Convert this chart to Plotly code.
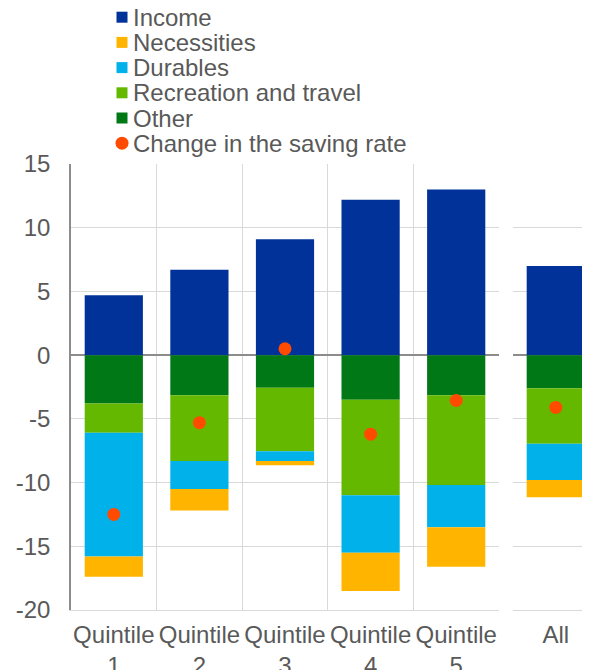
import plotly.graph_objects as go

# ---- data ----
quintiles = ["Quintile<br>1", "Quintile<br>2", "Quintile<br>3", "Quintile<br>4", "Quintile<br>5"]
total_label = ["All"]
income = [4.7, 6.7, 9.1, 12.2, 13.0, 7.0]
other = [-3.8, -3.15, -2.55, -3.5, -3.15, -2.6]
recreation = [-2.3, -5.15, -5.0, -7.5, -7.05, -4.35]
durables = [-9.7, -2.2, -0.75, -4.5, -3.3, -2.85]
necessities = [-1.6, -1.7, -0.35, -3.0, -3.1, -1.35]
saving_rate = [-12.5, -5.3, 0.5, -6.2, -3.55, -4.1]
y_ticks = [-20, -15, -10, -5, 0, 5, 10, 15]

series = [
    ("Income", income, "#003299"),
    ("Other", other, "#007816"),
    ("Recreation and travel", recreation, "#65B800"),
    ("Durables", durables, "#00B1EA"),
    ("Necessities", necessities, "#FFB400"),
]
legend_order = [
    ("Income", "#003299", "square"),
    ("Necessities", "#FFB400", "square"),
    ("Durables", "#00B1EA", "square"),
    ("Recreation and travel", "#65B800", "square"),
    ("Other", "#007816", "square"),
    ("Change in the saving rate", "#FF4B00", "circle"),
]

FONT = "Liberation Sans, Arial, sans-serif"
FS = 24
TXT = "#595959"
GRID = "#d9d9d9"
AX = "#8c8c8c"
DOT = "#FF4B00"

fig = go.Figure()
n = len(quintiles)
for name, vals, col in series:
    fig.add_trace(go.Bar(x=quintiles, y=vals[:n], name=name, marker=dict(color=col, line=dict(width=0)),
                         xaxis="x", yaxis="y", showlegend=False))
    fig.add_trace(go.Bar(x=total_label, y=vals[n:], name=name, marker=dict(color=col, line=dict(width=0)),
                         xaxis="x2", yaxis="y", showlegend=False))

fig.add_trace(go.Scatter(x=quintiles, y=saving_rate[:n], mode="markers", name="Change in the saving rate",
                         marker=dict(color=DOT, size=13), xaxis="x", yaxis="y", showlegend=False, cliponaxis=False))
fig.add_trace(go.Scatter(x=total_label, y=saving_rate[n:], mode="markers", name="Change in the saving rate",
                         marker=dict(color=DOT, size=13), xaxis="x2", yaxis="y", showlegend=False, cliponaxis=False))

ymin, ymax = y_ticks[0], y_ticks[-1]
zero_pos = (0 - ymin) / (ymax - ymin)
# page has an 8px body margin; figure is sized so the plot area lands where the original's does
W, H = 582, 662
L, T, B = 63, 156, 60
pw = W - L
d1 = 428 / pw
d2 = 442 / pw

common_x = dict(type="category", tickson="boundaries", showgrid=True, gridcolor=GRID, gridwidth=1,
                ticks="", showline=True, linecolor=GRID, linewidth=1, zeroline=False,
                ticklabelstandoff=3, tickangle=0, automargin=False,
                tickfont=dict(family=FONT, size=FS, color=TXT))
fig.update_layout(
    width=W, height=H,
    margin=dict(l=L, r=0, t=T, b=B),
    plot_bgcolor="white", paper_bgcolor="white",
    barmode="relative", bargap=0.32,
    font=dict(family=FONT, size=FS, color=TXT),
    showlegend=False,
    xaxis=dict(domain=[0, d1], categoryarray=quintiles, categoryorder="array", range=[-0.5, n - 0.5],
               anchor="y", **common_x),
    xaxis2=dict(domain=[d2, 1], categoryarray=total_label, categoryorder="array", range=[-0.5, 0.4],
                anchor="y", **common_x),
    xaxis3=dict(overlaying="x", anchor="free", position=zero_pos, type="linear", range=[-0.5, n - 0.5],
                tickvals=[i - 0.5 for i in range(n + 1)], ticks="outside", ticklen=8, tickwidth=1.5,
                tickcolor=AX, showticklabels=False, showgrid=False, zeroline=False, showline=False,
                automargin=False),
    xaxis4=dict(overlaying="x2", anchor="free", position=zero_pos, type="linear", range=[-0.5, 0.4],
                tickvals=[-0.5, 0.5], ticks="outside", ticklen=8, tickwidth=1.5,
                tickcolor=AX, showticklabels=False, showgrid=False, zeroline=False, showline=False,
                automargin=False),
    yaxis=dict(range=[ymin, ymax], tickvals=y_ticks, ticktext=[str(v) for v in y_ticks],
               showgrid=True, gridcolor=GRID, gridwidth=1,
               zeroline=True, zerolinecolor=AX, zerolinewidth=2,
               showline=True, linecolor=AX, linewidth=1.5, ticks="", ticklabelstandoff=14,
               automargin=False,
               tickfont=dict(family=FONT, size=FS, color=TXT)),
)

# ---- manual legend (compact spacing as in the original) ----
row0, step = 17.2, 25.2
top_page = 164
for i, (label, col, sym) in enumerate(legend_order):
    cy = row0 + step * i
    yoff = top_page - cy
    if sym == "square":
        fig.add_shape(type="rect", xref="paper", yref="paper", xsizemode="pixel", ysizemode="pixel",
                      xanchor=0, yanchor=1, x0=45.5, x1=56.5, y0=yoff - 5.5, y1=yoff + 5.5,
                      fillcolor=col, line=dict(width=0))
    else:
        fig.add_shape(type="circle", xref="paper", yref="paper", xsizemode="pixel", ysizemode="pixel",
                      xanchor=0, yanchor=1, x0=44.5, x1=57.5, y0=yoff - 6.5, y1=yoff + 6.5,
                      fillcolor=col, line=dict(width=0))
    fig.add_annotation(xref="paper", yref="paper", x=0, y=1, xanchor="left", yanchor="middle",
                       xshift=60, yshift=yoff, text=label, showarrow=False,
                       font=dict(family=FONT, size=FS, color=TXT))

fig.write_html("out.html")
